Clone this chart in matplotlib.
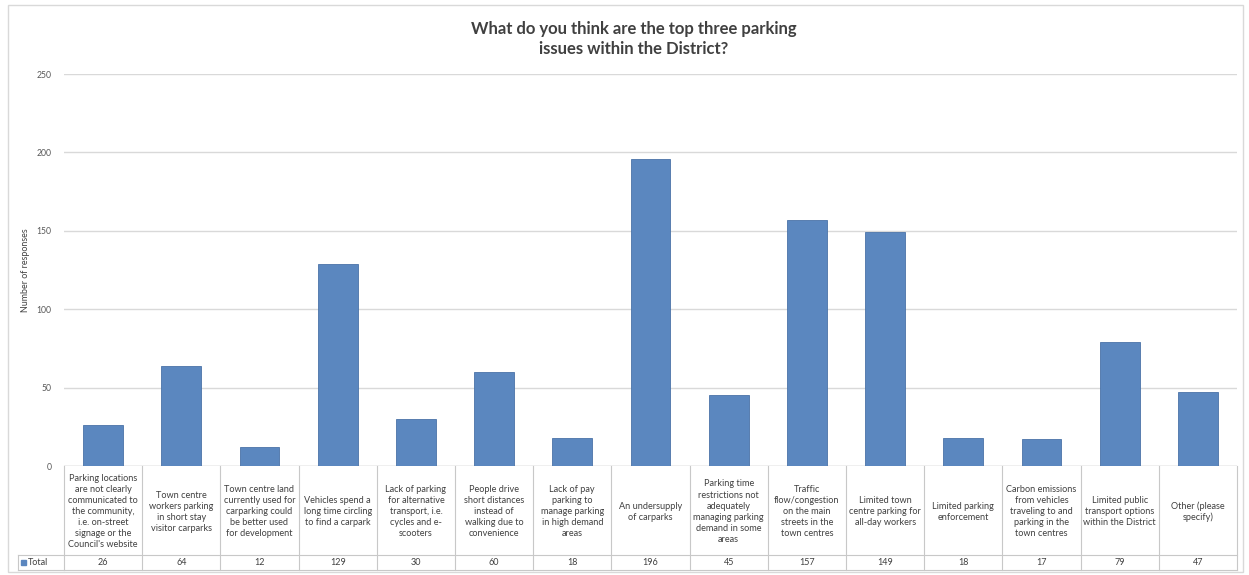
import matplotlib
matplotlib.use("Agg")
import matplotlib.pyplot as plt
import matplotlib.transforms as mtransforms
from matplotlib.patches import Rectangle

plt.rcParams['font.family'] = ['Lato', 'DejaVu Sans']

title = "What do you think are the top three parking\nissues within the District?"
y_label = "Number of responses"
series_name = "Total"

categories = [
    "Parking locations\nare not clearly\ncommunicated to\nthe community,\ni.e. on-street\nsignage or the\nCouncil's website",
    "Town centre\nworkers parking\nin short stay\nvisitor carparks",
    "Town centre land\ncurrently used for\ncarparking could\nbe better used\nfor development",
    "Vehicles spend a\nlong time circling\nto find a carpark",
    "Lack of parking\nfor alternative\ntransport, i.e.\ncycles and e-\nscooters",
    "People drive\nshort distances\ninstead of\nwalking due to\nconvenience",
    "Lack of pay\nparking to\nmanage parking\nin high demand\nareas",
    "An undersupply\nof carparks",
    "Parking time\nrestrictions not\nadequately\nmanaging parking\ndemand in some\nareas",
    "Traffic\nflow/congestion\non the main\nstreets in the\ntown centres",
    "Limited town\ncentre parking for\nall-day workers",
    "Limited parking\nenforcement",
    "Carbon emissions\nfrom vehicles\ntraveling to and\nparking in the\ntown centres",
    "Limited public\ntransport options\nwithin the District",
    "Other (please\nspecify)",
]
totals = [26, 64, 12, 129, 30, 60, 18, 196, 45, 157, 149, 18, 17, 79, 47]
y_ticks = [0, 50, 100, 150, 200, 250]

W, H = 1249, 575
fig = plt.figure(figsize=(W / 100, H / 100), dpi=100)
fig.patch.set_facecolor('white')

def fy(px):
    return 1 - px / H

def fx(px):
    return px / W

text_color = '#404040'

# outer chart frame
fig.add_artist(Rectangle((fx(8), fy(572)), fx(1243) - fx(8), fy(5) - fy(572),
                         transform=fig.transFigure, fill=False,
                         edgecolor='#d9d9d9', lw=1.0))

ax = fig.add_axes([fx(64), fy(466), fx(1237) - fx(64), fy(74) - fy(466)])
n = len(categories)
x = list(range(n))
bar_color = '#5b87bf'
ax.bar(x, totals, width=0.51, color=bar_color, edgecolor='#4a73a8',
       linewidth=0.6, zorder=3)
ax.set_xlim(-0.5, n - 0.5)
ax.set_ylim(0, 250)
ax.set_yticks(y_ticks)
ax.set_yticklabels([str(t) for t in y_ticks], fontsize=6.2, color='#595959')
ax.tick_params(axis='y', length=0, pad=9)
ax.set_xticks([])
ax.grid(axis='y', color='#d9d9d9', lw=1.0, zorder=0)
for s in ax.spines.values():
    s.set_visible(False)
ax.axhline(0, color='#d0d0d0', lw=1.0, zorder=2)

ax.set_ylabel(y_label, fontsize=6.4, color=text_color)
ax.yaxis.set_label_coords(-0.029, 0.5)

fig.text(fx(634), fy(39), title, ha='center', va='center',
         fontsize=12, fontweight='bold', color=text_color, linespacing=1.3)

# data table beneath the axis
trans = mtransforms.blended_transform_factory(ax.transData, fig.transFigure)
line_kw = dict(color='#c8c8c8', lw=0.8, clip_on=False, transform=trans)
top, mid, bot = fy(466), fy(555), fy(570)
for i in range(n + 1):
    ax.plot([i - 0.5, i - 0.5], [top, bot], **line_kw)
ax.plot([-0.5, n - 0.5], [mid, mid], **line_kw)
ax.plot([-0.5, n - 0.5], [bot, bot], **line_kw)

ftrans = fig.transFigure
fig.add_artist(plt.Line2D([fx(18), fx(64)], [mid, mid], color='#c8c8c8', lw=0.8, transform=ftrans))
fig.add_artist(plt.Line2D([fx(18), fx(64)], [bot, bot], color='#c8c8c8', lw=0.8, transform=ftrans))
fig.add_artist(plt.Line2D([fx(18), fx(18)], [mid, bot], color='#c8c8c8', lw=0.8, transform=ftrans))

for i, (lab, v) in enumerate(zip(categories, totals)):
    ax.text(i, (top + mid) / 2 - 0.002, lab, transform=trans, ha='center', va='center',
            fontsize=6.6, color=text_color, linespacing=1.3, clip_on=False)
    ax.text(i, (mid + bot) / 2, str(v), transform=trans, ha='center', va='center',
            fontsize=6.5, color=text_color, clip_on=False)

fig.add_artist(Rectangle((fx(21), (mid + bot) / 2 - 0.005), fx(5), 0.01,
                         transform=ftrans, color=bar_color))
fig.text(fx(28), (mid + bot) / 2, series_name, ha='left', va='center',
         fontsize=6.5, color=text_color)

fig.savefig('out.png', dpi=100, facecolor='white')
